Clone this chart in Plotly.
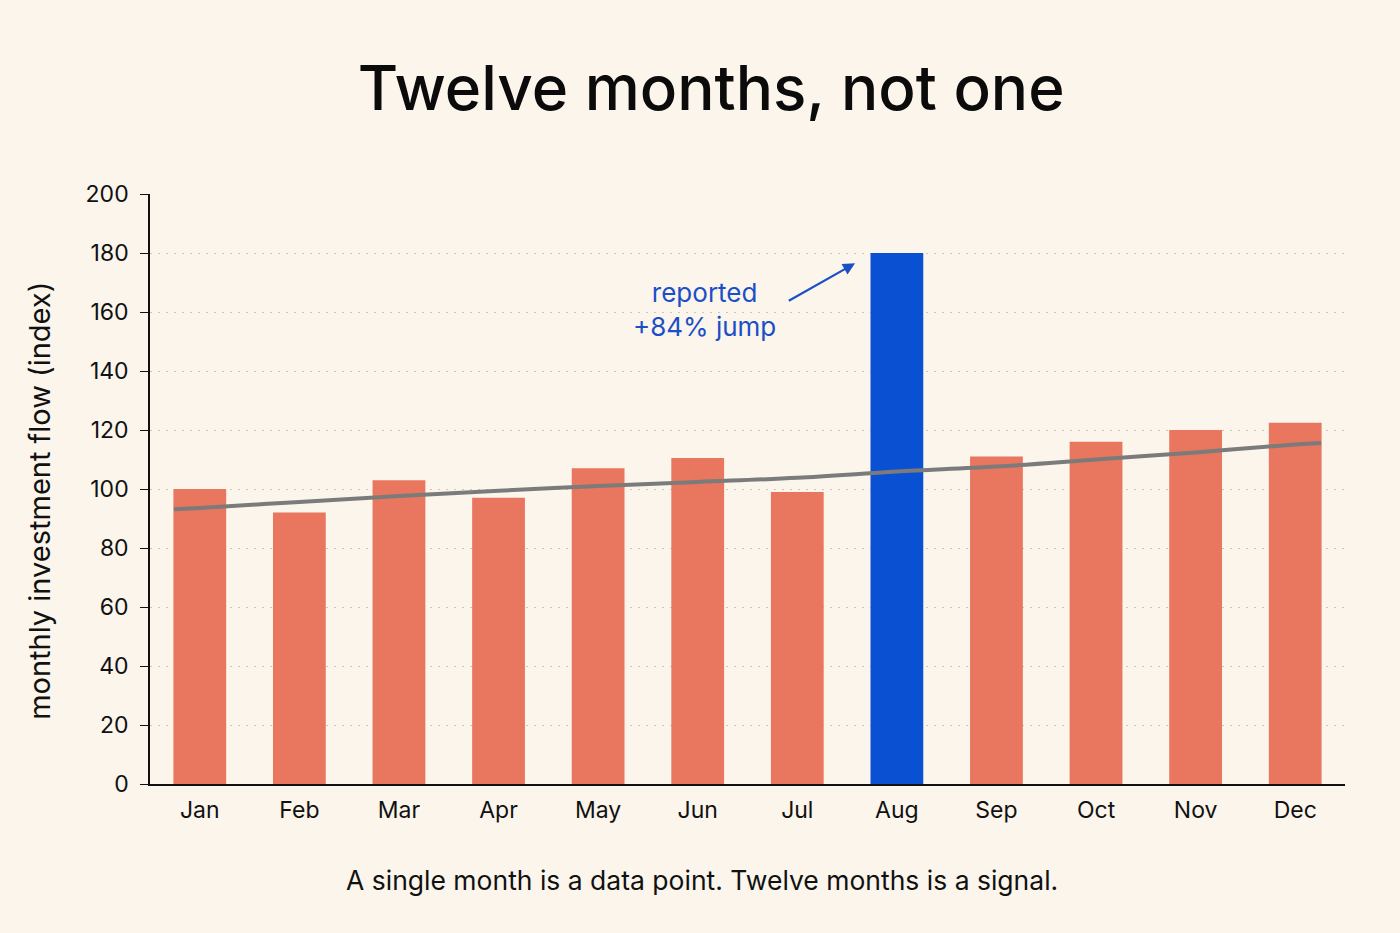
import plotly.graph_objects as go

months = ["Jan", "Feb", "Mar", "Apr", "May", "Jun", "Jul", "Aug", "Sep", "Oct", "Nov", "Dec"]
flow = [100, 92, 103, 97, 107, 110.5, 99, 180, 111, 116, 120, 122.5]
highlight = "Aug"

# smoothed trend, sampled across the bar span
trend_x = [-0.26, 0, 1, 2, 3, 4, 5, 6, 7, 8, 9, 10, 11, 11.26]
trend_y = [93.1, 93.6, 95.6, 97.6, 99.4, 101.0, 102.4, 103.8, 105.9, 107.6, 110.0, 112.4, 115.1, 115.6]

BG = "#FBF5EC"
SALMON = "#E9765F"
BLUE = "#0A50D2"
ANNO = "#1B4FC6"
FONT = "Inter, Roboto, sans-serif"


def main():
    pos = list(range(len(months)))
    colors = [BLUE if m == highlight else SALMON for m in months]

    fig = go.Figure()

    fig.add_trace(go.Bar(
        x=pos,
        y=flow,
        marker=dict(color=colors, line=dict(width=0)),
        width=0.53,
        hovertemplate="%{text}: %{y}<extra></extra>",
        text=months,
        textposition="none",
    ))

    # Trend line over the bars
    fig.add_trace(go.Scatter(
        x=trend_x,
        y=trend_y,
        mode="lines",
        line=dict(color="#7B7B7B", width=4, shape="spline"),
        hoverinfo="skip",
    ))

    aug = months.index(highlight)

    fig.add_annotation(
        x=aug - 0.42, y=176.5, xref="x", yref="y",
        ax=aug - 1.1, ay=163.5, axref="x", ayref="y",
        text="", showarrow=True,
        arrowhead=2, arrowsize=1.1, arrowwidth=2.2, arrowcolor=ANNO,
    )
    fig.add_annotation(
        x=aug - 1.93, y=161, xref="x", yref="y",
        text="reported<br>+84% jump", showarrow=False,
        font=dict(family=FONT, size=26, color=ANNO),
        align="center",
    )

    # y-axis title as a rotated note, sits a little below the plot centre
    fig.add_annotation(
        x=-0.092, y=0.48, xref="paper", yref="paper",
        xanchor="center", yanchor="middle", textangle=-90,
        text="monthly investment flow (index)", showarrow=False,
        font=dict(family=FONT, size=29, color="#111111"),
    )

    fig.add_annotation(
        x=0.462, y=-0.163, xref="paper", yref="paper",
        xanchor="center", yanchor="middle",
        text="A single month is a data point. Twelve months is a signal.",
        showarrow=False,
        font=dict(family=FONT, size=26.5, color="#111111"),
    )

    fig.update_layout(
        width=1400,
        height=933,
        paper_bgcolor=BG,
        plot_bgcolor=BG,
        showlegend=False,
        font=dict(family=FONT, color="#111111"),
        title=dict(
            text="Twelve months, not one",
            x=0.508, xanchor="center",
            y=0.905, yanchor="middle",
            font=dict(family=FONT, size=62, color="#0B0B0B", weight=500),
        ),
        margin=dict(l=150, r=55, t=194, b=149),
        xaxis=dict(
            range=[-0.5, 11.5],
            tickmode="array",
            tickvals=pos,
            ticktext=months,
            showgrid=False,
            zeroline=False,
            showline=True,
            linecolor="#111111",
            linewidth=1.5,
            ticks="",
            tickfont=dict(family=FONT, size=23, color="#111111"),
            ticklabelstandoff=5,
        ),
        yaxis=dict(
            range=[0, 200],
            dtick=20,
            showgrid=True,
            gridcolor="#CCC6BD",
            griddash="2px,6px",
            gridwidth=1.2,
            zeroline=False,
            showline=True,
            linecolor="#111111",
            linewidth=1.5,
            ticks="outside",
            ticklen=8,
            tickcolor="#111111",
            tickfont=dict(family=FONT, size=23, color="#111111"),
            ticklabelstandoff=7,
        ),
    )

    # drop the browser's default page margin so the figure sits at the corner
    fig.write_html(
        "out.html",
        config={"displayModeBar": False},
        post_script="document.body.style.margin='0';document.body.style.background='%s';" % BG,
    )


if __name__ == "__main__":
    main()
